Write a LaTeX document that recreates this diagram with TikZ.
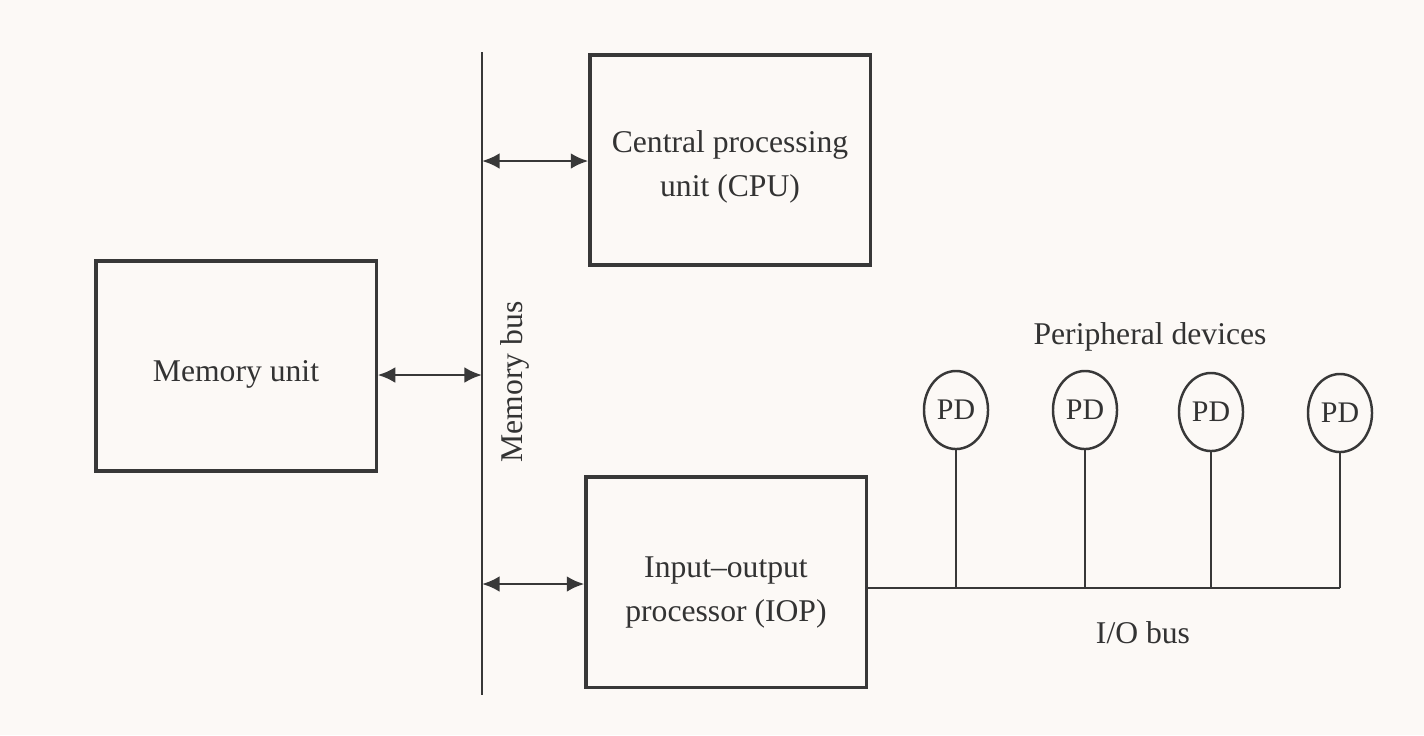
\documentclass[tikz,border=0pt]{standalone}
\usepackage{fontspec}
\setmainfont{Liberation Serif}
\usetikzlibrary{arrows.meta,shapes.geometric}
\newcommand{\boxtext}[2]{\raisebox{#1}[\height][\depth]{\begin{tabular}{@{}c@{}}#2\end{tabular}}}
\begin{document}
\begin{tikzpicture}[x=0.01cm,y=-0.01cm,
  font=\fontsize{9}{12.5}\selectfont,
  ink/.style={draw=black!78},
  unitbox/.style={ink,line width=0.9pt,rectangle,minimum width=2.8cm,minimum height=2.1cm,align=center,text=black!80,inner sep=0pt},
  pdnode/.style={ink,line width=0.7pt,ellipse,minimum width=0.64cm,minimum height=0.78cm,inner sep=0pt,text=black!80,font=\fontsize{8.5}{10}\selectfont},
  wire/.style={ink,line width=0.6pt},
  biarrow/.style={ink,line width=0.8pt,{Latex[length=5pt,width=4.5pt]}-{Latex[length=5pt,width=4.5pt]}},
  lbl/.style={text=black!80,inner sep=0pt}]
\fill[white!95!brown] (0,0) rectangle (1424,735);
\useasboundingbox (0,0) rectangle (1424,735);
% memory bus
\coordinate (mbtop) at (482,52);
\coordinate (mbbot) at (482,695);
\draw[wire,line width=0.8pt] (mbtop) -- (mbbot);
\node[lbl,rotate=90] (mblbl) at (515,382) {Memory bus};
% boxes
\node[unitbox] (cpu) at (730,160) {\boxtext{-1.5pt}{Central processing\\unit (CPU)}};
\node[unitbox] (mem) at (236,366) {\boxtext{-2pt}{Memory unit}};
\node[unitbox] (iop) at (726,582) {\boxtext{-2.5pt}{Input--output\\processor (IOP)}};
% arrows to bus
\coordinate (mbcpu) at (482,161);
\coordinate (mbmem) at (482,375);
\coordinate (mbiop) at (482,584);
\draw[biarrow] (mbcpu) -- (cpu.west |- mbcpu);
\draw[biarrow] (mem.east |- mbmem) -- (mbmem);
\draw[biarrow] (mbiop) -- (iop.west |- mbiop);
% peripheral devices
\node[pdnode] (pd1) at (956,410) {PD};
\node[pdnode] (pd2) at (1085,410) {PD};
\node[pdnode] (pd3) at (1211,412) {PD};
\node[pdnode] (pd4) at (1340,413) {PD};
\node[lbl] (pdlbl) at (1150,337) {Peripheral devices};
% I/O bus
\coordinate (iob1) at (956,588);
\coordinate (iob2) at (1085,588);
\coordinate (iob3) at (1211,588);
\coordinate (iob4) at (1340,588);
\draw[wire,line width=0.8pt] (iop.east |- iob1) -- (iob4);
\draw[wire] (pd1.south) -- (iob1);
\draw[wire] (pd2.south) -- (iob2);
\draw[wire] (pd3.south) -- (iob3);
\draw[wire] (pd4.south) -- (iob4);
\node[lbl] (ioblbl) at (1143,633) {I/O bus};
\end{tikzpicture}
\end{document}
